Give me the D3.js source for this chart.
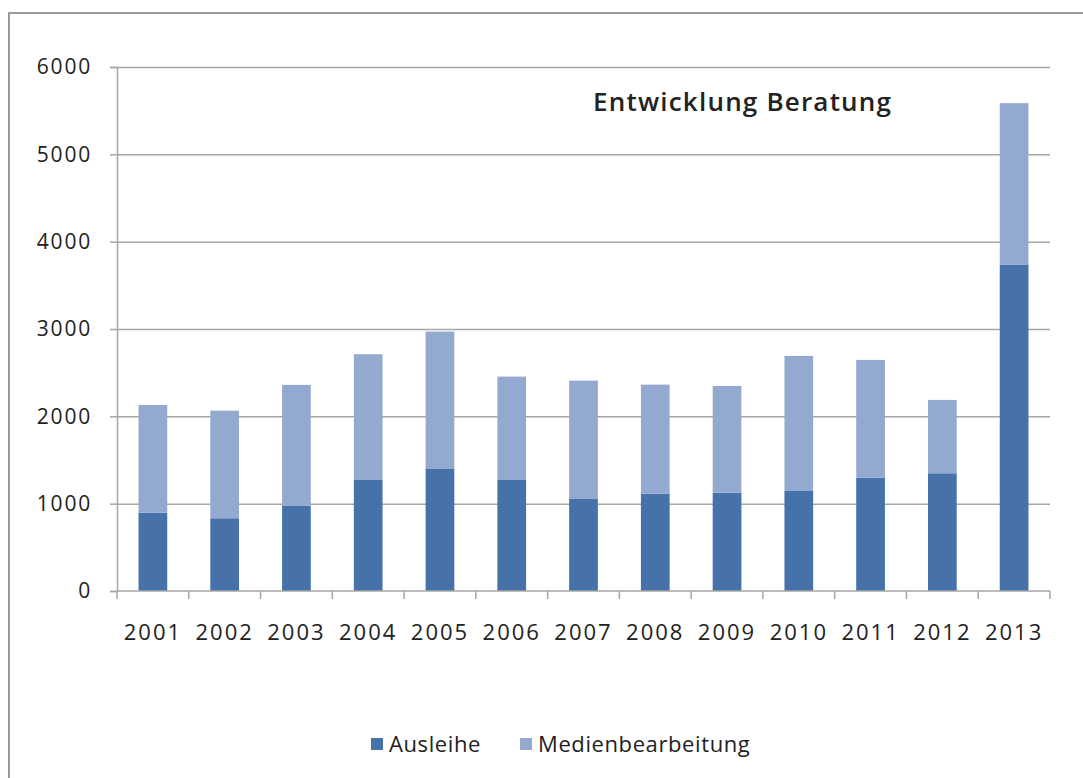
<!DOCTYPE html>
<html>
<head>
<meta charset="utf-8">
<script src="https://cdn.jsdelivr.net/npm/d3@7"></script>
<style>
  body { margin: 0; background: #fff; }
  text { font-family: "Open Sans", Lato, sans-serif; fill: #222; }
</style>
</head>
<body>
<svg id="chart"></svg>
<script>
// chart data
const years = ["2001", "2002", "2003", "2004", "2005", "2006", "2007", "2008", "2009", "2010", "2011", "2012", "2013"];
const ausleihe = [897, 833, 974, 1271, 1397, 1271, 1054, 1115, 1126, 1145, 1298, 1348, 3734];
const medienbearbeitung = [1233, 1232, 1386, 1440, 1574, 1184, 1355, 1248, 1222, 1547, 1348, 840, 1852];
const yTicks = [0, 1000, 2000, 3000, 4000, 5000, 6000];
const seriesNames = ["Ausleihe", "Medienbearbeitung"];
const colors = ["#4672a9", "#93a9d0"];

const width = 1083;
const height = 778;
const plot = { left: 117, right: 1050, top: 67, bottom: 591 };

const svg = d3.select("#chart").attr("width", width).attr("height", height);

// outer frame (only top and left edges visible)
svg.append("path")
  .attr("d", `M9,${height} V13 H${width}`)
  .attr("fill", "none")
  .attr("stroke", "#9a9a9a")
  .attr("stroke-width", 2);

// scales
const x = d3.scaleBand()
  .domain(years)
  .range([plot.left, plot.right])
  .paddingInner(0.6)
  .paddingOuter(0.3);

const y = d3.scaleLinear()
  .domain([0, 6000])
  .range([plot.bottom, plot.top]);

// grid lines
svg.append("g")
  .attr("transform", `translate(${plot.left},0)`)
  .call(d3.axisLeft(y).tickValues(yTicks.slice(1)).tickSize(-(plot.right - plot.left)).tickFormat(""))
  .call(g => g.select(".domain").remove())
  .call(g => g.selectAll("line").attr("stroke", "#a6a6a6").attr("stroke-width", 1.5));

// stacked bars
const rows = years.map((yr, i) => ({ year: yr, Ausleihe: ausleihe[i], Medienbearbeitung: medienbearbeitung[i] }));
const stacked = d3.stack().keys(seriesNames)(rows);

svg.append("g")
  .selectAll("g")
  .data(stacked)
  .join("g")
  .attr("fill", (d, i) => colors[i])
  .selectAll("rect")
  .data(d => d)
  .join("rect")
  .attr("x", d => x(d.data.year))
  .attr("width", x.bandwidth())
  .attr("y", d => y(d[1]))
  .attr("height", d => y(d[0]) - y(d[1]));

// y axis
svg.append("g")
  .attr("transform", `translate(${plot.left},0)`)
  .call(d3.axisLeft(y).tickValues(yTicks).tickSize(7).tickPadding(18).tickFormat(d3.format("d")))
  .call(g => g.select(".domain").attr("stroke", "#a6a6a6").attr("stroke-width", 1.5))
  .call(g => g.selectAll(".tick line").attr("stroke", "#a6a6a6").attr("stroke-width", 1.5))
  .call(g => g.selectAll("text")
    .attr("font-family", "'Open Sans', sans-serif")
    .attr("font-size", 21)
    .attr("letter-spacing", 1.8)
    .attr("fill", "#2a2a2a"));

// x axis line with ticks at category boundaries
const xAxis = svg.append("g");
xAxis.append("line")
  .attr("x1", plot.left).attr("x2", plot.right)
  .attr("y1", plot.bottom).attr("y2", plot.bottom)
  .attr("stroke", "#a6a6a6").attr("stroke-width", 1.5);
xAxis.selectAll(".bound")
  .data(years.concat(["end"]))
  .join("line")
  .attr("x1", (d, i) => plot.left + i * x.step())
  .attr("x2", (d, i) => plot.left + i * x.step())
  .attr("y1", plot.bottom)
  .attr("y2", plot.bottom + 8)
  .attr("stroke", "#a6a6a6").attr("stroke-width", 1.5);
xAxis.selectAll("text")
  .data(years)
  .join("text")
  .attr("x", d => x(d) + x.bandwidth() / 2)
  .attr("y", 640)
  .attr("text-anchor", "middle")
  .attr("font-size", 22)
  .attr("letter-spacing", 2)
  .attr("fill", "#2a2a2a")
  .text(d => d);

// title
svg.append("text")
  .attr("x", 593)
  .attr("y", 111)
  .attr("font-size", 26)
  .attr("font-weight", 600)
  .attr("letter-spacing", 1.2)
  .attr("fill", "#111")
  .text("Entwicklung Beratung");

// legend
const legendItems = [
  { name: seriesNames[0], color: colors[0], x: 371 },
  { name: seriesNames[1], color: colors[1], x: 520 }
];
const legend = svg.append("g");
legendItems.forEach(item => {
  legend.append("rect")
    .attr("x", item.x).attr("y", 738)
    .attr("width", 12).attr("height", 12)
    .attr("fill", item.color);
  legend.append("text")
    .attr("x", item.x + 18).attr("y", 752)
    .attr("font-size", 22)
    .attr("letter-spacing", 0.6)
    .attr("fill", "#2a2a2a")
    .text(item.name);
});
</script>
</body>
</html>
